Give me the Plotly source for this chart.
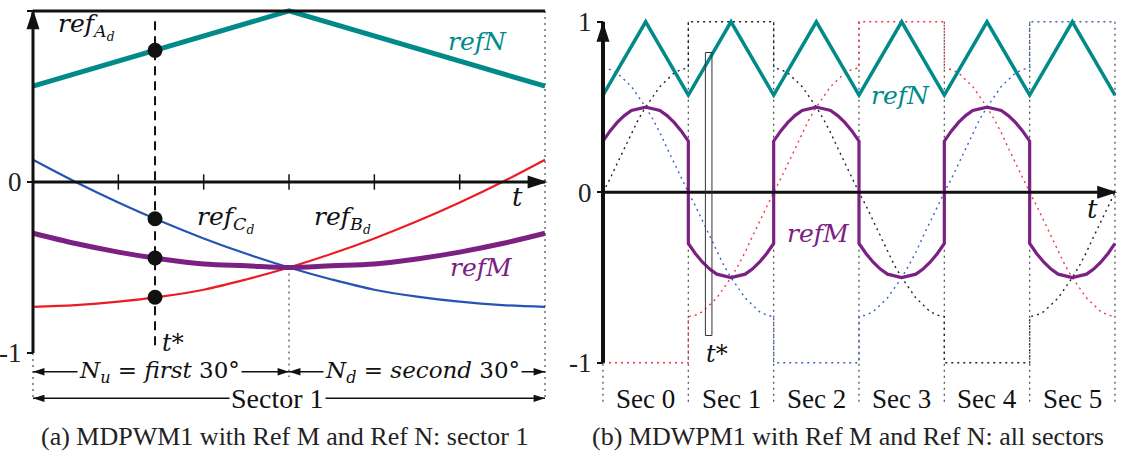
import numpy as np
import plotly.graph_objects as go

SERIF = "Liberation Serif, DejaVu Serif, serif"
MATH = "DejaVu Serif, Liberation Serif, serif"
TEAL = "#008a8a"
PURPLE = "#7b2183"
BLUE = "#2554b4"
RED = "#ec1c24"
BLACK = "#111111"
GRAY = "#555555"

# ---------------- panel (a): sector 1, angle (deg) inside the sector ----------------
a_angle = [0, 5, 10, 15, 20, 25, 30, 35, 40, 45, 50, 55, 60]
a_refC = [0.13, 0.00, -0.12, -0.23, -0.33, -0.42, -0.50, -0.57, -0.63, -0.67, -0.70, -0.72, -0.73]
a_refB = [-0.73, -0.72, -0.70, -0.67, -0.63, -0.57, -0.50, -0.42, -0.33, -0.23, -0.12, 0.00, 0.13]
a_refM = [-0.30, -0.36, -0.41, -0.45, -0.48, -0.49, -0.50, -0.49, -0.48, -0.45, -0.41, -0.36, -0.30]
a_refN_angle = [0, 30, 60]
a_refN = [0.56, 1.00, 0.56]
a_ticks = [10, 20, 30, 40, 50]
t_star = 14.3

# ---------------- panel (b): all sectors ----------------
b_sector_angle = [0, 5, 10, 15, 20, 25, 30, 35, 40, 45, 50, 55, 60]
b_refM_shape = [0.30, 0.36, 0.41, 0.45, 0.48, 0.49, 0.50, 0.49, 0.48, 0.45, 0.41, 0.36, 0.30]
b_refM_sign = [1, -1, 1, -1, 1, -1]
b_refN_angle = [0, 30, 60, 90, 120, 150, 180, 210, 240, 270, 300, 330, 360]
b_refN = [0.57, 1.00, 0.57, 1.00, 0.57, 1.00, 0.57, 1.00, 0.57, 1.00, 0.57, 1.00, 0.57]
# a phase reference over two sectors (120 deg, 5 deg steps), falling version
b_phase_fall = [0.73, 0.72, 0.70, 0.66, 0.62, 0.56, 0.50, 0.43, 0.35, 0.26, 0.17, 0.08, 0.00,
                -0.08, -0.17, -0.26, -0.35, -0.43, -0.50, -0.56, -0.62, -0.66, -0.70, -0.72, -0.73]
b_phase_plan = {
    "blue": [("fall", 0), ("fall", 1), ("clamp", -1), ("rise", 0), ("rise", 1), ("clamp", 1)],
    "red": [("clamp", -1), ("rise", 0), ("rise", 1), ("clamp", 1), ("fall", 0), ("fall", 1)],
    "black": [("rise", 1), ("clamp", 1), ("fall", 0), ("fall", 1), ("clamp", -1), ("rise", 0)],
}
b_phase_color = {"blue": "#3a62bd", "red": "#ee3a42", "black": "#222222"}
b_sector_labels = ["Sec 0", "Sec 1", "Sec 2", "Sec 3", "Sec 4", "Sec 5"]

fig = go.Figure()


def line(x, y, color, width, dash=None, xa="x", ya="y", shape="linear"):
    fig.add_trace(go.Scatter(x=x, y=y, mode="lines",
                             line=dict(color=color, width=width, dash=dash, shape=shape),
                             xaxis=xa, yaxis=ya, hoverinfo="skip", showlegend=False))


def arrows(x, y, angles, size, xa="x", ya="y", color=BLACK):
    fig.add_trace(go.Scatter(x=x, y=y, mode="markers",
                             marker=dict(symbol="arrow", size=size, angle=angles, color=color,
                                         line=dict(width=0)),
                             xaxis=xa, yaxis=ya, hoverinfo="skip", showlegend=False))


def text(x, y, s, size, color=BLACK, xa="x", ya="y", bg=None, family=MATH):
    fig.add_annotation(x=x, y=y, xref=xa, yref=ya, text=s, showarrow=False,
                       font=dict(family=family, size=size, color=color),
                       bgcolor=bg, borderpad=1, xanchor="center", yanchor="middle")


DOT = "2px,4px"

# ================= panel (a) =================
a0, a1 = a_angle[0], a_angle[-1]
amid = a_refN_angle[1]
line([amid, amid], [-0.5, -1.14], GRAY, 1.3, DOT)
line([a1, a1], [1, -1.27], GRAY, 1.3, DOT)
line([a0, a0], [-1, -1.27], GRAY, 1.3, DOT)

line(a_angle, a_refC, BLUE, 2.2, shape="spline")
line(a_angle, a_refB, RED, 2.2, shape="spline")
line(a_angle, a_refM, PURPLE, 5, shape="spline")
line(a_refN_angle, a_refN, TEAL, 5)

# t* dashed marker line
line([t_star, t_star], [0.94, -0.98], BLACK, 2, "9px,6px")
dots_y = [np.interp(t_star, a_refN_angle, a_refN), np.interp(t_star, a_angle, a_refC),
          np.interp(t_star, a_angle, a_refM), np.interp(t_star, a_angle, a_refB)]
fig.add_trace(go.Scatter(x=[t_star] * 4, y=dots_y, mode="markers",
                         marker=dict(color=BLACK, size=15), xaxis="x", yaxis="y",
                         hoverinfo="skip", showlegend=False))

# axes
line([a0, a1], [1, 1], BLACK, 3)
line([a0, a1], [0, 0], BLACK, 3)
line([a0, a0], [-1, 1], BLACK, 3)
arrows([a0, a1 + 0.3], [1.01, 0], [0, 90], 21)
fig.add_trace(go.Scatter(x=a_ticks, y=[0] * len(a_ticks), mode="markers",
                         marker=dict(symbol="line-ns", size=11, line=dict(color=BLACK, width=1.5)),
                         xaxis="x", yaxis="y", hoverinfo="skip", showlegend=False))

# dimension arrows
yN, yS = -1.11, -1.265
line([a0, amid, None, amid, a1, None, a0, a1], [yN, yN, None, yN, yN, None, yS, yS], BLACK, 1.5)
arrows([a0, amid, amid, a1, a0, a1], [yN, yN, yN, yN, yS, yS], [-90, 90, -90, 90, -90, 90], 12)
text(14.8, yN, "<i>N</i><sub><i>u</i></sub> = <i>first</i> 30°", 23, bg="white")
text(45.6, yN, "<i>N</i><sub><i>d</i></sub> = <i>second</i> 30°", 23, bg="white")
text(28.6, yS, "Sector 1", 28, bg="white", family=SERIF)

# labels
text(6.3, 0.91, "<i>ref</i><sub><i>A<sub>d</sub></i></sub>", 25)
text(52.1, 0.82, "<i>refN</i>", 25, TEAL)
text(22.6, -0.22, "<i>ref</i><sub><i>C<sub>d</sub></i></sub>", 25)
text(36.3, -0.22, "<i>ref</i><sub><i>B<sub>d</sub></i></sub>", 25)
text(52.6, -0.50, "<i>refM</i>", 25, PURPLE)
text(56.8, -0.09, "<i>t</i>", 26)
text(16.4, -0.94, "<i>t</i>*", 24)

# ================= panel (b) =================
bounds = [60 * k for k in range(7)]
bx, by = [], []
for b in bounds:
    bx += [b, b, None]
    by += [1, -1.25, None]
line(bx, by, GRAY, 1.3, DOT, "x2", "y2")

for name, plan in b_phase_plan.items():
    px, py = [], []
    for k, (mode, arg) in enumerate(plan):
        if mode == "clamp":
            px += [60 * k, 60 * k + 60]
            py += [arg, arg]
        else:
            sgn = 1 if mode == "fall" else -1
            seg = b_phase_fall[12 * arg:12 * arg + 13]
            px += [60 * k + a for a in b_sector_angle]
            py += [sgn * v for v in seg]
    line(px, py, b_phase_color[name], 1.4, DOT, "x2", "y2")

mx, my = [], []
for k, sgn in enumerate(b_refM_sign):
    mx += [60 * k + a for a in b_sector_angle]
    my += [sgn * v for v in b_refM_shape]
line(mx, my, PURPLE, 3.2, None, "x2", "y2")
line(b_refN_angle, b_refN, TEAL, 3.5, None, "x2", "y2")

line([0, 360], [0, 0], BLACK, 3, None, "x2", "y2")
line([0, 0], [-1, 1], BLACK, 4, None, "x2", "y2")
arrows([0, 361.5], [1.0, 0], [0, 90], 21, "x2", "y2")

ts = 60 + t_star
fig.add_shape(type="rect", xref="x2", yref="y2", x0=ts - 2.3, x1=ts + 2.3, y0=-0.84, y1=0.82,
              line=dict(color="#333333", width=1))
text(ts + 6, -0.95, "<i>t</i>*", 24, xa="x2", ya="y2")
text(209.5, 0.57, "<i>refN</i>", 25, TEAL, "x2", "y2")
text(151.5, -0.24, "<i>refM</i>", 25, PURPLE, "x2", "y2")
text(344, -0.10, "<i>t</i>", 26, xa="x2", ya="y2")
for k, lab in enumerate(b_sector_labels):
    text(60 * k + 30, -1.21, lab, 27, xa="x2", ya="y2", family=SERIF)

# captions
fig.add_annotation(x=0.252, y=0.044, xref="paper", yref="paper", showarrow=False,
                   xanchor="center", yanchor="middle",
                   text="(a) MDPWM1 with Ref M and Ref N: sector 1",
                   font=dict(family=SERIF, size=26, color="#222"))
fig.add_annotation(x=0.7504, y=0.044, xref="paper", yref="paper", showarrow=False,
                   xanchor="center", yanchor="middle",
                   text="(b) MDWPM1 with Ref M and Ref N: all sectors",
                   font=dict(family=SERIF, size=26, color="#222"))

ytick = dict(visible=True, showline=False, showgrid=False, zeroline=False,
             tickvals=[-1, 0, 1], ticktext=["-1", "0", "1"], ticks="outside", ticklen=6,
             tickwidth=2, tickcolor=BLACK, anchor="free", domain=[0, 1],
             tickfont=dict(family=SERIF, size=27, color="#222"))
fig.update_layout(
    width=1130, height=457, margin=dict(l=0, r=0, t=0, b=0),
    paper_bgcolor="white", plot_bgcolor="white", showlegend=False,
    xaxis=dict(domain=[0, 0.5], range=[-3.867, 62.34], visible=False),
    yaxis=dict(range=[-1.608, 1.064], position=33 / 1130, **ytick),
    xaxis2=dict(domain=[0.5, 1], range=[-26.72, 370.55], visible=False),
    yaxis2=dict(range=[-1.5525, 1.128], position=603 / 1130, **ytick),
)
fig.write_html("out.html", config={"displayModeBar": False, "staticPlot": True},
               post_script="document.body.style.margin='0px';document.body.style.overflow='hidden';")
